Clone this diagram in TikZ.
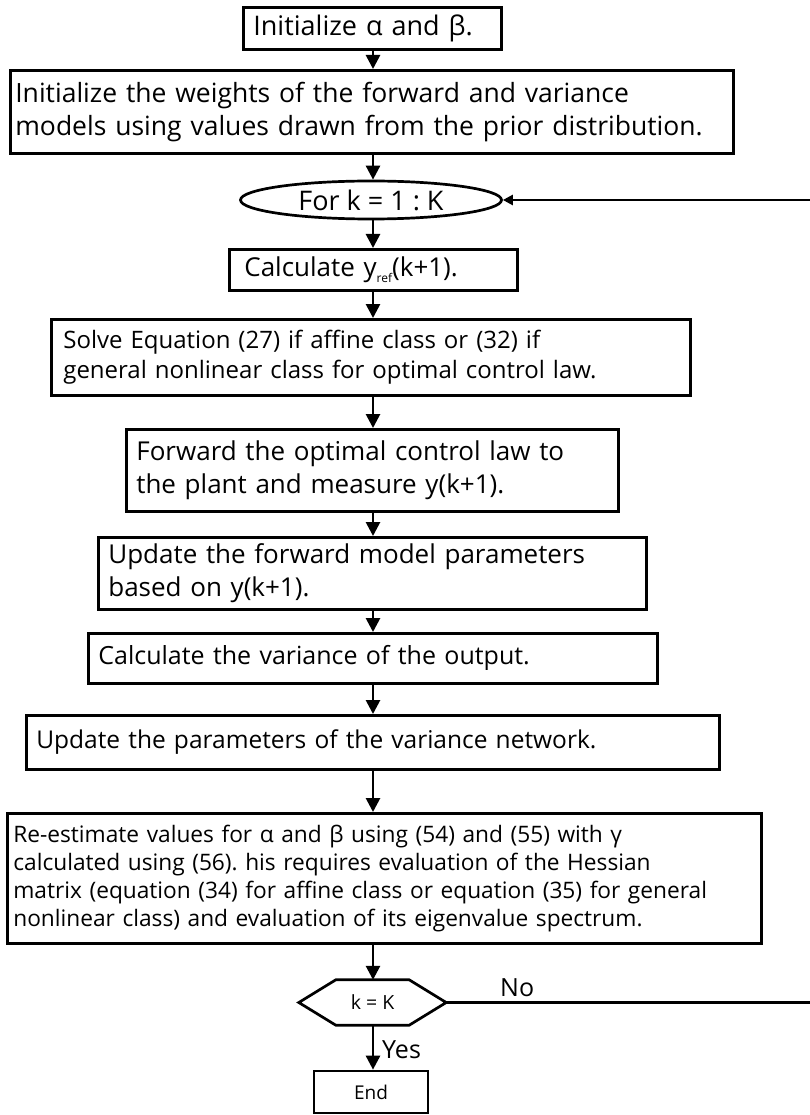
\documentclass[tikz,border=0pt]{standalone}
\usepackage{fontspec}
\setmainfont{Open Sans}
\frenchspacing
\usetikzlibrary{arrows.meta,shapes.geometric}

\tikzset{
  box/.style={draw, line width=2.7pt, align=left, anchor=north west,
              inner ysep=0pt, font=\fontsize{26}{32.5}\selectfont},
  flow/.style={line width=2.7pt, -{Triangle[length=14pt,width=14pt]}},
  loopline/.style={line width=2.4pt},
  loophead/.style={line width=2.4pt, -{Triangle[length=10pt,width=10pt]}},
  lbl/.style={font=\fontsize{25}{30}\selectfont, inner sep=0pt},
}

\begin{document}
\begin{tikzpicture}[x=1pt,y=-1pt]
\useasboundingbox (0,0) rectangle (810,1115);

% x position of the main vertical flow line
\coordinate (ax) at (373,0);

% process boxes (placed by their top-left corner)
\node[box, inner xsep=10pt, text width=238pt, minimum height=42pt,
      font=\fontsize{27}{32}\selectfont] (init) at (242,6)
  {Initialize α and β.};
\node[box, inner xsep=5pt, text width=713pt, minimum height=83pt,
      font=\fontsize{26.5}{32.5}\selectfont] (weights) at (9,69)
  {Initialize the weights of the forward and variance\\models using values drawn from the prior distribution.};
\node[draw, ellipse, line width=2.7pt, minimum width=261pt, minimum height=38pt, inner sep=0pt,
      font=\fontsize{27}{30}\selectfont] (loop) at (371,200) {For k = 1 : K};
\node[box, inner xsep=15pt, text width=258pt, minimum height=41pt] (yref) at (228,248)
  {Calculate y\raisebox{-0.45ex}{\fontsize{12}{12}\selectfont ref}(k+1).};
\node[box, inner xsep=12pt, text width=615pt, minimum height=76pt,
      font=\fontsize{24}{30}\selectfont] (solve) at (50,318)
  {Solve Equation (27) if affine class or (32) if\\general nonlinear class for optimal control law.};
\node[box, inner xsep=10pt, text width=472pt, minimum height=82pt] (plant) at (125,428)
  {Forward the optimal control law to\\the plant and measure y(k+1).};
\node[box, inner xsep=10pt, text width=528pt, minimum height=72pt] (fwd) at (97,536)
  {Update the forward model parameters\\based on y(k+1).};
\node[box, inner xsep=10pt, text width=549pt, minimum height=50pt,
      font=\fontsize{25}{30}\selectfont] (var) at (87,632)
  {Calculate the variance of the output.};
\node[box, inner xsep=10pt, text width=673pt, minimum height=54pt,
      font=\fontsize{24.5}{30}\selectfont] (varnet) at (25,714)
  {Update the parameters of the variance network.};
\node[box, inner xsep=6pt, text width=742pt, minimum height=130pt,
      font=\fontsize{22.7}{28}\selectfont] (reest) at (6,812)
  {Re-estimate values for α and β using (54) and (55) with γ\\
   calculated using (56). his requires evaluation of the Hessian\\
   matrix (equation (34) for affine class or equation (35) for general\\
   nonlinear class) and evaluation of its eigenvalue spectrum.};

% decision hexagon
\node[minimum width=147pt, minimum height=45pt, inner sep=0pt,
      font=\fontsize{19.5}{22}\selectfont] (test) at (372.5,1002.5) {k = K};
\draw[line width=2.7pt, line join=miter]
  (test.west) -- ([xshift=37pt]test.north west) -- ([xshift=-37pt]test.north east)
  -- (test.east) -- ([xshift=-37pt]test.south east) -- ([xshift=37pt]test.south west) -- cycle;

% terminal box
\node[draw, line width=2.7pt, minimum width=114pt, minimum height=42pt, inner sep=0pt,
      font=\fontsize{19}{22}\selectfont] (stop) at (371,1092) {End};

% main flow
\draw[flow] (init.south -| ax) -- (weights.north -| ax);
\draw[flow] (weights.south -| ax) -- (loop.north -| ax);
\draw[flow] (loop.south -| ax) -- (yref.north -| ax);
\draw[flow] (yref.south -| ax) -- (solve.north -| ax);
\draw[flow] (solve.south -| ax) -- (plant.north -| ax);
\draw[flow] (plant.south -| ax) -- (fwd.north -| ax);
\draw[flow] (fwd.south -| ax) -- (var.north -| ax);
\draw[flow] (var.south -| ax) -- (varnet.north -| ax);
\draw[flow] (varnet.south -| ax) -- (reest.north -| ax);
\draw[flow] (reest.south -| ax) -- (test.north -| ax);
\draw[flow] (test.south -| ax) -- (stop.north -| ax);

% return path of the loop, running off the right edge
\coordinate (backin) at (810,200);
\coordinate (backout) at (810,1002.5);
\draw[loophead] (backin) -- (loop.east);
\draw[loopline] (test.east) -- (backout);

% branch labels
\node[lbl, anchor=south west] (nolbl) at (500,997) {No};
\node[lbl, anchor=west] (yeslbl) at (382,1050) {Yes};
\end{tikzpicture}
\end{document}
